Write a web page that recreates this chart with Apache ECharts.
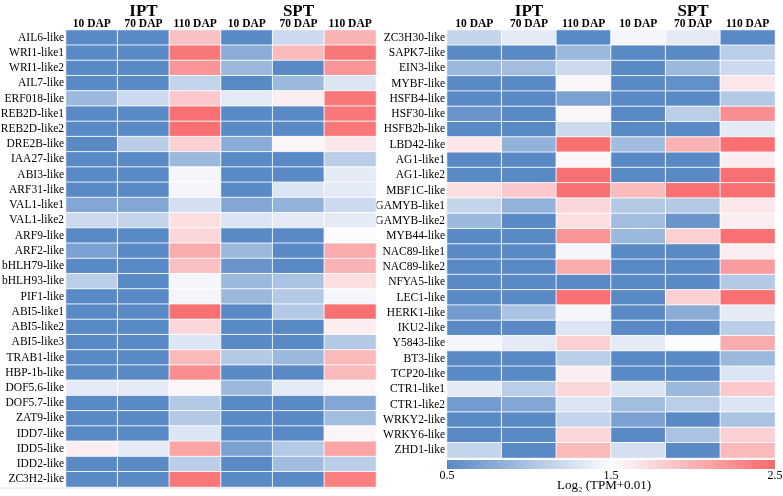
<!DOCTYPE html>
<html>
<head>
<meta charset="utf-8">
<script src="https://cdn.jsdelivr.net/npm/echarts@6/dist/echarts.min.js"></script>
<style>
  html, body { margin: 0; padding: 0; background: #fff; }
  #chart { width: 783px; height: 496px; }
</style>
</head>
<body>
<div id="chart"></div>
<script>
var stages = ['10 DAP', '70 DAP', '110 DAP', '10 DAP', '70 DAP', '110 DAP'];
var groups = ['IPT', 'SPT'];

// 左侧基因
var genesLeft = ['AIL6-like', 'WRI1-like1', 'WRI1-like2', 'AIL7-like', 'ERF018-like', 'REB2D-like1',
    'REB2D-like2', 'DRE2B-like', 'IAA27-like', 'ABI3-like', 'ARF31-like', 'VAL1-like1', 'VAL1-like2',
    'ARF9-like', 'ARF2-like', 'bHLH79-like', 'bHLH93-like', 'PIF1-like', 'ABI5-like1', 'ABI5-like2',
    'ABI5-like3', 'TRAB1-like', 'HBP-1b-like', 'DOF5.6-like', 'DOF5.7-like', 'ZAT9-like', 'IDD7-like',
    'IDD5-like', 'IDD2-like', 'ZC3H2-like'];
var valuesLeft = [
    [0.5, 0.5, 1.9, 0.5, 1.2, 2.0],
    [0.5, 0.5, 2.4, 0.8, 1.95, 2.4],
    [0.5, 0.5, 2.2, 0.9, 0.5, 2.2],
    [0.5, 0.5, 1.15, 0.5, 0.9, 1.3],
    [0.9, 1.2, 1.85, 1.35, 1.6, 2.4],
    [0.5, 0.5, 2.45, 0.5, 0.5, 2.4],
    [0.5, 0.5, 2.45, 0.5, 0.5, 2.4],
    [0.5, 1.1, 1.8, 0.8, 1.55, 1.65],
    [0.5, 0.5, 0.9, 0.5, 0.5, 1.1],
    [0.5, 0.5, 1.45, 0.5, 0.5, 1.35],
    [0.5, 0.5, 1.45, 0.5, 1.3, 1.35],
    [0.75, 0.75, 1.25, 0.75, 0.85, 1.2],
    [1.2, 1.15, 1.7, 1.3, 1.35, 1.35],
    [0.5, 0.5, 1.75, 0.5, 0.5, 1.5],
    [0.7, 0.5, 2.05, 0.9, 0.5, 2.05],
    [0.5, 0.5, 1.9, 0.6, 0.5, 2.0],
    [1.1, 0.5, 1.45, 0.9, 1.0, 1.7],
    [0.5, 0.5, 1.45, 0.9, 1.05, 1.45],
    [0.5, 0.5, 2.45, 0.5, 1.05, 2.45],
    [0.5, 0.5, 1.75, 0.5, 0.5, 1.6],
    [0.5, 0.5, 1.3, 0.5, 0.5, 1.05],
    [0.5, 0.5, 1.95, 1.05, 0.9, 1.95],
    [0.5, 0.5, 2.25, 0.5, 0.5, 1.95],
    [1.35, 1.35, 1.55, 0.9, 1.35, 1.55],
    [0.5, 0.5, 1.05, 0.5, 0.5, 0.75],
    [0.5, 0.5, 1.05, 0.5, 0.5, 0.95],
    [0.5, 0.5, 1.3, 0.5, 0.5, 1.55],
    [1.6, 1.35, 2.1, 0.7, 1.05, 2.1],
    [0.5, 0.5, 1.1, 0.5, 0.95, 1.1],
    [0.5, 0.5, 2.4, 0.5, 0.5, 2.35]
];

// 右侧基因
var genesRight = ['ZC3H30-like', 'SAPK7-like', 'EIN3-like', 'MYBF-like', 'HSFB4-like', 'HSF30-like',
    'HSFB2b-like', 'LBD42-like', 'AG1-like1', 'AG1-like2', 'MBF1C-like', 'GAMYB-like1', 'GAMYB-like2',
    'MYB44-like', 'NAC89-like1', 'NAC89-like2', 'NFYA5-like', 'LEC1-like', 'HERK1-like', 'IKU2-like',
    'Y5843-like', 'BT3-like', 'TCP20-like', 'CTR1-like1', 'CTR1-like2', 'WRKY2-like', 'WRKY6-like',
    'ZHD1-like'];
var valuesRight = [
    [1.15, 1.35, 0.5, 1.45, 1.35, 0.5],
    [0.5, 0.5, 0.9, 0.5, 0.5, 1.1],
    [0.9, 0.95, 1.2, 0.5, 0.9, 1.2],
    [0.5, 0.5, 1.55, 0.5, 0.55, 1.65],
    [0.5, 0.5, 0.7, 0.5, 0.5, 1.05],
    [0.6, 0.5, 1.55, 0.5, 1.1, 2.25],
    [0.5, 0.5, 1.2, 0.5, 0.5, 1.35],
    [1.65, 0.85, 2.45, 0.95, 2.0, 2.45],
    [0.5, 0.5, 1.55, 0.5, 0.5, 1.6],
    [0.5, 0.5, 2.45, 0.5, 0.5, 2.45],
    [1.7, 1.85, 2.45, 1.95, 2.45, 2.45],
    [1.15, 0.85, 1.75, 1.05, 1.05, 1.65],
    [0.9, 0.5, 1.7, 0.95, 0.6, 1.6],
    [0.5, 0.5, 2.2, 0.9, 1.8, 2.45],
    [0.5, 0.5, 1.45, 0.5, 0.5, 1.6],
    [0.5, 0.5, 2.05, 0.5, 0.5, 2.15],
    [0.5, 0.5, 0.5, 0.5, 0.5, 1.05],
    [0.5, 0.5, 2.45, 0.5, 1.8, 2.45],
    [0.65, 1.0, 1.45, 0.5, 0.8, 1.35],
    [0.5, 0.5, 1.3, 0.5, 0.5, 1.1],
    [1.45, 1.35, 1.8, 1.35, 1.5, 2.05],
    [0.5, 0.5, 1.1, 0.5, 0.5, 0.9],
    [0.5, 0.5, 1.6, 0.5, 0.5, 1.3],
    [1.35, 1.1, 1.75, 1.3, 0.9, 1.85],
    [0.65, 0.75, 1.3, 0.95, 1.1, 1.3],
    [0.5, 0.5, 1.15, 0.7, 0.5, 1.0],
    [0.5, 0.5, 1.75, 0.5, 1.0, 1.8],
    [1.15, 0.5, 1.95, 1.25, 0.5, 1.95]
];

var scaleTicks = ['0.5', '1.5', '2.5'];
var colors = ['#5A8AC6', '#FCFCFF', '#F8696B'];
var font = 'Liberation Serif';

function toCells(vals) {
    var out = [];
    vals.forEach(function(row, r) {
        row.forEach(function(v, c) { out.push([c, r, v]); });
    });
    return out;
}

var myChart = echarts.init(document.getElementById('chart'));

var grids = [
    { left: 66, top: 30, width: 310, height: 457, outerBoundsMode: 'none', containLabel: false },
    { left: 447, top: 30, width: 328, height: 428, outerBoundsMode: 'none', containLabel: false }
];
var xAxes = [], yAxes = [], series = [];
[genesLeft, genesRight].forEach(function(genes, i) {
    xAxes.push({
        type: 'category', gridIndex: i, position: 'top', data: stages,
        axisLine: { show: false }, axisTick: { show: false },
        axisLabel: { fontFamily: font, fontWeight: 'bold', fontSize: 11.5, lineHeight: 11, color: '#000', margin: 0, interval: 0 }
    });
    xAxes.push({
        type: 'category', gridIndex: i, position: 'top', offset: 9, data: groups,
        axisLine: { show: false }, axisTick: { show: false },
        axisLabel: { fontFamily: font, fontWeight: 'bold', fontSize: 17, color: '#000', margin: 1, interval: 0 }
    });
    yAxes.push({
        type: 'category', gridIndex: i, inverse: true, data: genes,
        axisLine: { show: false }, axisTick: { show: false },
        axisLabel: { fontFamily: font, fontSize: 11.5, color: '#000', margin: 2, interval: 0 }
    });
    series.push({
        type: 'heatmap', xAxisIndex: i * 2, yAxisIndex: i,
        data: toCells(i === 0 ? valuesLeft : valuesRight),
        itemStyle: { borderColor: 'rgba(255,255,255,0.85)', borderWidth: 1 },
        emphasis: { disabled: true }
    });
});

var barLeft = 447, barWidth = 328, barTop = 460;
var graphics = [{
    type: 'rect',
    shape: { x: barLeft, y: barTop, width: barWidth, height: 9 },
    style: {
        fill: new echarts.graphic.LinearGradient(0, 0, 1, 0, [
            { offset: 0, color: colors[0] },
            { offset: 0.5, color: colors[1] },
            { offset: 1, color: colors[2] }
        ])
    }
}, {
    type: 'text', left: 557, top: 479,
    style: { text: 'Log\u2082 (TPM+0.01)', font: '13px ' + font, fill: '#000' }
}, {
    type: 'line',
    shape: { x1: 0, y1: 488, x2: 376, y2: 488 },
    style: { stroke: '#e6e6e6', lineWidth: 1 }
}];
scaleTicks.forEach(function(t, k) {
    graphics.push({
        type: 'text',
        x: barLeft + barWidth * k / (scaleTicks.length - 1), y: 470,
        style: { text: t, font: '12px ' + font, fill: '#000', align: 'center' }
    });
});

var option = {
    backgroundColor: '#fff',
    animation: false,
    grid: grids,
    xAxis: xAxes,
    yAxis: yAxes,
    visualMap: {
        show: false, type: 'continuous', min: 0.5, max: 2.5,
        seriesIndex: [0, 1], inRange: { color: colors }
    },
    graphic: graphics,
    series: series
};
myChart.setOption(option);
</script>
</body>
</html>
